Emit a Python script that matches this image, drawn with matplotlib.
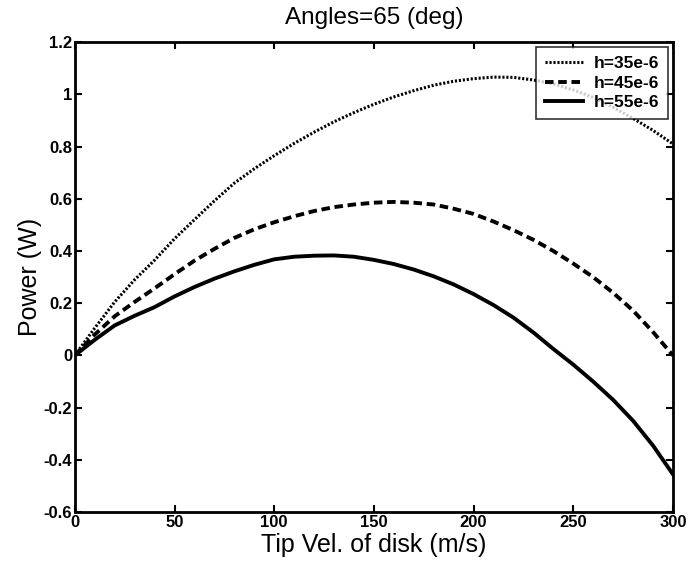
import matplotlib.pyplot as plt

plt.rcParams['font.family'] = ['Liberation Sans', 'DejaVu Sans']

# tip velocity (m/s)
vel = [0, 10, 20, 30, 40, 50, 60, 70, 80, 90, 100, 110, 120, 130, 140, 150,
       160, 170, 180, 190, 200, 210, 220, 230, 240, 250, 260, 270, 280, 290, 300]

# power (W) for each h
p_35 = [0, 0.105, 0.205, 0.29, 0.365, 0.447, 0.52, 0.592, 0.66, 0.715, 0.765,
        0.812, 0.855, 0.895, 0.93, 0.962, 0.99, 1.014, 1.035, 1.05, 1.06,
        1.066, 1.065, 1.055, 1.04, 1.017, 0.988, 0.95, 0.908, 0.862, 0.81]
p_45 = [0, 0.08, 0.15, 0.205, 0.257, 0.311, 0.363, 0.408, 0.45, 0.483, 0.51,
        0.533, 0.553, 0.568, 0.578, 0.585, 0.588, 0.585, 0.578, 0.562, 0.542,
        0.513, 0.48, 0.443, 0.40, 0.352, 0.30, 0.24, 0.172, 0.09, 0.0]
p_55 = [0, 0.06, 0.115, 0.152, 0.185, 0.226, 0.262, 0.294, 0.322, 0.347, 0.368,
        0.378, 0.382, 0.383, 0.378, 0.366, 0.35, 0.329, 0.303, 0.272, 0.235,
        0.193, 0.145, 0.088, 0.025, -0.035, -0.10, -0.17, -0.25, -0.345, -0.455]

labels = ['h=35e-6', 'h=45e-6', 'h=55e-6']

fig = plt.figure(figsize=(6.93, 5.69), dpi=100)
ax = fig.add_axes([0.108, 0.100, 0.863, 0.826])

ax.plot(vel, p_35, color='black', linestyle=(0, (0.7, 0.6)), linewidth=2.2, label=labels[0])
ax.plot(vel, p_45, color='black', linestyle=(0, (2.2, 1.2)), linewidth=2.8, label=labels[1])
ax.plot(vel, p_55, color='black', linestyle='-', linewidth=2.8, label=labels[2])

ax.set_xlim(0, 300)
ax.set_ylim(-0.6, 1.2)
ax.set_xticks([0, 50, 100, 150, 200, 250, 300])
ax.set_yticks([-0.6, -0.4, -0.2, 0, 0.2, 0.4, 0.6, 0.8, 1, 1.2])
ax.set_yticklabels(['-0.6', '-0.4', '-0.2', '0', '0.2', '0.4', '0.6', '0.8', '1', '1.2'])

ax.tick_params(direction='in', top=True, right=True, length=5, width=1.5,
               labelsize=12, pad=2)
for lab in ax.get_xticklabels() + ax.get_yticklabels():
    lab.set_fontweight('bold')
for s in ax.spines.values():
    s.set_linewidth(2)

ax.set_title('Angles=65 (deg)', fontsize=17.5, pad=13)
ax.set_xlabel('Tip Vel. of disk (m/s)', fontsize=18, labelpad=2)
ax.set_ylabel('Power (W)', fontsize=18, labelpad=1)

leg = ax.legend(loc='upper right', fontsize=12.5, frameon=True, fancybox=False,
                edgecolor='black', handlelength=2.2, borderpad=0.5,
                labelspacing=0.25, handletextpad=0.6, borderaxespad=0.3)
leg.get_frame().set_linewidth(1.2)
for t in leg.get_texts():
    t.set_fontweight('bold')

fig.savefig('out.png', dpi=100)
